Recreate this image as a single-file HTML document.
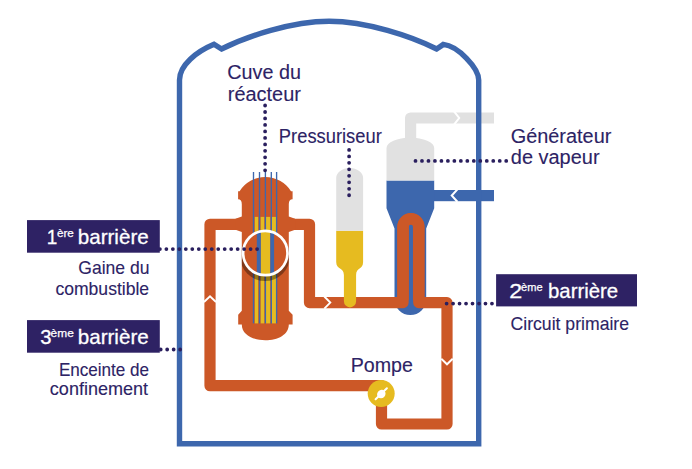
<!DOCTYPE html>
<html><head><meta charset="utf-8">
<style>
html,body{margin:0;padding:0;background:#fff;width:692px;height:469px;overflow:hidden}
svg{display:block}
text{font-family:"Liberation Sans",sans-serif}
</style></head>
<body>
<svg width="692" height="469" viewBox="0 0 692 469">
<!-- steam pipe (grey) and feed pipe (blue) -->
<path d="M410.6 142 V118 H494" fill="none" stroke="#e1e1e1" stroke-width="11.2" stroke-linejoin="round"/>
<rect x="420" y="190" width="74" height="11.2" fill="#3d67ad"/>
<!-- containment -->
<path d="M179.5 443.8 V80 C179.5 64.9 196.74 51.53 214 44.3 L221.5 49 C246.86 36.4 291.5 21.3 329.1 21.3 C366.7 21.3 411.3 36.4 436.7 49 L443.4 44.4 C458 46 478.7 68 478.7 80 V443.8 Z" fill="none" stroke="#3d67ad" stroke-width="5.4" stroke-linejoin="miter"/>
<!-- chevrons on secondary pipes -->
<polyline points="454,111.3 459.2,118 454,124.7" fill="none" stroke="#fff" stroke-width="2"/>
<polyline points="457.4,189.4 451.8,195.6 457.4,201.8" fill="none" stroke="#fff" stroke-width="2.1"/>
<!-- steam generator -->
<defs>
<clipPath id="sgtop"><rect x="370" y="100" width="80" height="80.4"/></clipPath>
<clipPath id="sgbot"><rect x="370" y="180.4" width="80" height="160"/></clipPath>
</defs>
<path d="M386.5 148.1 A23.85 10.5 0 0 1 434.2 148.1 V208.2 L426.2 228.5 V299.5 A15.85 15.4 0 0 1 394.5 299.5 V228.5 L386.5 208.2 Z" fill="#3d67ad" clip-path="url(#sgbot)"/>
<path d="M386.5 148.1 A23.85 10.5 0 0 1 434.2 148.1 V208.2 L426.2 228.5 V299.5 A15.85 15.4 0 0 1 394.5 299.5 V228.5 L386.5 208.2 Z" fill="#e1e1e1" clip-path="url(#sgtop)"/>
<!-- primary loop -->
<path d="M242 224.3 H210 V385.7 H381.5 V424 H447 V302.6 H418.75 V226.65 A7.85 7.85 0 0 0 403.05 226.65 V302.6 H309.5 V224.3 H289" fill="none" stroke="#cc5827" stroke-width="11.2" stroke-linejoin="round"/>
<path d="M403.05 300 V226.65 A7.85 7.85 0 0 1 418.75 226.65 V300" fill="none" stroke="#cc5827" stroke-width="11.6"/>
<!-- reactor vessel -->
<path d="M239.6 191.2 A30.3 30.3 0 0 1 291 191.2 H292.6 V199.2 Q288.8 199.2 288.8 204.2 V216.5 L295.1 218.8 V229.8 L288.8 232 V310.7 L292.6 314.8 V324.4 H288.8 C288.8 334.5 278 340.2 265.3 340.2 C252.6 340.2 241.8 334.5 241.8 324.4 H238.2 V314.8 L241.8 310.7 V232 L235.5 229.8 V218.8 L241.8 216.5 V204.2 Q241.8 199.2 238.1 199.2 V191.2 Z" fill="#cc5827"/>
<g fill="#e6bb20">
<rect x="254.8" y="216.9" width="3.4" height="106.5"/>
<rect x="260.6" y="216.9" width="3.7" height="106.5"/>
<rect x="265.9" y="216.9" width="4.3" height="106.5"/>
<rect x="271.9" y="216.9" width="4.3" height="106.5"/>
</g>
<g stroke="#3d67ad" stroke-width="1.35">
<line x1="253.5" y1="172" x2="253.5" y2="323.4"/>
<line x1="259.5" y1="172" x2="259.5" y2="323.4"/>
<line x1="265.4" y1="172" x2="265.4" y2="323.4"/>
<line x1="271.3" y1="172" x2="271.3" y2="323.4"/>
<line x1="276.6" y1="172" x2="276.6" y2="323.4"/>
</g>
<!-- magnifier -->
<defs>
<filter id="blur" x="-30%" y="-30%" width="160%" height="160%"><feGaussianBlur stdDeviation="0.6"/></filter>
<clipPath id="mag"><circle cx="265.3" cy="253" r="22"/></clipPath>
<clipPath id="body"><rect x="241.8" y="200" width="47" height="120"/></clipPath>
</defs>
<g clip-path="url(#body)"><circle cx="265" cy="256.2" r="24.9" fill="#000" opacity="0.36" filter="url(#blur)"/></g>
<circle cx="265.3" cy="253" r="22" fill="#cc5827"/>
<g clip-path="url(#mag)">
<rect x="256.8" y="229" width="4.1" height="48" fill="#3d67ad"/>
<rect x="260.9" y="229" width="9.4" height="48" fill="#e6bb20"/>
<rect x="270.3" y="229" width="3.8" height="48" fill="#3d67ad"/>
</g>
<circle cx="265.3" cy="253" r="22.2" fill="none" stroke="#fff" stroke-width="2.7"/>
<!-- pressurizer -->
<defs>
<clipPath id="pztop"><rect x="320" y="150" width="60" height="80.8"/></clipPath>
<clipPath id="pzbot"><rect x="320" y="230.8" width="60" height="90"/></clipPath>
</defs>
<path d="M336.2 178 A13.45 10 0 0 1 363.1 178 V262 C363.1 269.5 356.1 267.5 356.1 275 V301.3 A6.1 6.1 0 0 1 343.9 301.3 V275 C343.9 267.5 336.2 269.5 336.2 262 Z" fill="#e6bb20" clip-path="url(#pzbot)"/>
<path d="M336.2 178 A13.45 10 0 0 1 363.1 178 V262 C363.1 269.5 356.1 267.5 356.1 275 V301.3 A6.1 6.1 0 0 1 343.9 301.3 V275 C343.9 267.5 336.2 269.5 336.2 262 Z" fill="#e1e1e1" clip-path="url(#pztop)"/>
<!-- chevrons on primary loop -->
<g fill="none" stroke="#fff" stroke-width="1.9">
<polyline points="204,302 210,296.3 216,302"/>
<polyline points="324.3,296.5 330.3,302.6 324.3,308.7"/>
<polyline points="441.3,358.7 447,364.3 452.7,358.7"/>
</g>
<!-- pump -->
<circle cx="381.2" cy="393.5" r="13.5" fill="#e6bb20"/>
<line x1="375.6" y1="399.3" x2="386.9" y2="388.2" stroke="#fff" stroke-width="2" stroke-linecap="round"/>
<ellipse cx="381.3" cy="394.1" rx="4.5" ry="4" transform="rotate(-45 381.3 394.1)" fill="#fff"/>
<!-- dotted leaders -->
<g fill="none" stroke="#2a1f5e" stroke-width="3.8" stroke-linecap="round" stroke-dasharray="0 6.48">
<line x1="265.1" y1="105.5" x2="265.1" y2="172"/>
<line x1="159.9" y1="249.1" x2="258" y2="249.1"/>
<line x1="160.7" y1="349.5" x2="181" y2="349.5"/>
<line x1="349.1" y1="149.9" x2="349.1" y2="197"/>
<line x1="415.5" y1="160.9" x2="508" y2="160.9"/>
<line x1="446.6" y1="303.6" x2="494" y2="303.6"/>
</g>
<!-- boxes -->
<rect x="27" y="220.1" width="132.8" height="32.6" fill="#2e2264"/>
<rect x="27" y="320.1" width="132.8" height="32.6" fill="#2e2264"/>
<rect x="496.1" y="274.2" width="140.9" height="32.2" fill="#2e2264"/>
<!-- texts -->
<text x="227.31" y="79.1" font-size="20" fill="#2d2365" stroke="#2d2365" stroke-width="0.12" textLength="73.71" lengthAdjust="spacingAndGlyphs">Cuve du</text>
<text x="227.74" y="100.5" font-size="20" fill="#2d2365" stroke="#2d2365" stroke-width="0.12" textLength="73.24" lengthAdjust="spacingAndGlyphs">réacteur</text>
<text x="278.85" y="142.6" font-size="20" fill="#2d2365" stroke="#2d2365" stroke-width="0.12" textLength="102.92" lengthAdjust="spacingAndGlyphs">Pressuriseur</text>
<text x="510.67" y="143.4" font-size="20" fill="#2d2365" stroke="#2d2365" stroke-width="0.12" textLength="100.68" lengthAdjust="spacingAndGlyphs">Générateur</text>
<text x="510.82" y="164.0" font-size="20" fill="#2d2365" stroke="#2d2365" stroke-width="0.12" textLength="88.76" lengthAdjust="spacingAndGlyphs">de vapeur</text>
<text x="350.69" y="371.8" font-size="20" fill="#2d2365" stroke="#2d2365" stroke-width="0.12" textLength="62.24" lengthAdjust="spacingAndGlyphs">Pompe</text>
<text x="78.29" y="273.6" font-size="18.6" fill="#2d2365" stroke="#2d2365" stroke-width="0.12" textLength="71.13" lengthAdjust="spacingAndGlyphs">Gaine du</text>
<text x="55.43" y="294.6" font-size="18.6" fill="#2d2365" stroke="#2d2365" stroke-width="0.12" textLength="93.7" lengthAdjust="spacingAndGlyphs">combustible</text>
<text x="58.9" y="375.8" font-size="18.6" fill="#2d2365" stroke="#2d2365" stroke-width="0.12" textLength="90.23" lengthAdjust="spacingAndGlyphs">Enceinte de</text>
<text x="49.84" y="394.9" font-size="18.6" fill="#2d2365" stroke="#2d2365" stroke-width="0.12" textLength="98.26" lengthAdjust="spacingAndGlyphs">confinement</text>
<text x="510.54" y="329.5" font-size="18.2" fill="#2d2365" stroke="#2d2365" stroke-width="0.12" textLength="118.49" lengthAdjust="spacingAndGlyphs">Circuit primaire</text>
<text x="46.81" y="243.5" font-size="21" fill="#fff" stroke="#fff" stroke-width="0.3" textLength="10.51" lengthAdjust="spacingAndGlyphs">1</text>
<text x="56.91" y="236.6" font-size="11.5" fill="#fff" stroke="#fff" stroke-width="0.25" textLength="16.83" lengthAdjust="spacingAndGlyphs">ère</text>
<text x="77.77" y="243.5" font-size="21" fill="#fff" stroke="#fff" stroke-width="0.3" textLength="70.93" lengthAdjust="spacingAndGlyphs">barrière</text>
<text x="40.17" y="343.5" font-size="21" fill="#fff" stroke="#fff" stroke-width="0.3" textLength="11.25" lengthAdjust="spacingAndGlyphs">3</text>
<text x="50.64" y="336.6" font-size="11.5" fill="#fff" stroke="#fff" stroke-width="0.25" textLength="23.12" lengthAdjust="spacingAndGlyphs">ème</text>
<text x="77.77" y="343.5" font-size="21" fill="#fff" stroke="#fff" stroke-width="0.3" textLength="70.93" lengthAdjust="spacingAndGlyphs">barrière</text>
<text x="509.34" y="297.8" font-size="21" fill="#fff" stroke="#fff" stroke-width="0.3" textLength="12.96" lengthAdjust="spacingAndGlyphs">2</text>
<text x="521.05" y="290.8" font-size="11.5" fill="#fff" stroke="#fff" stroke-width="0.25" textLength="21.48" lengthAdjust="spacingAndGlyphs">ème</text>
<text x="548.02" y="297.8" font-size="21" fill="#fff" stroke="#fff" stroke-width="0.3" textLength="70.11" lengthAdjust="spacingAndGlyphs">barrière</text>
</svg>
</body></html>
